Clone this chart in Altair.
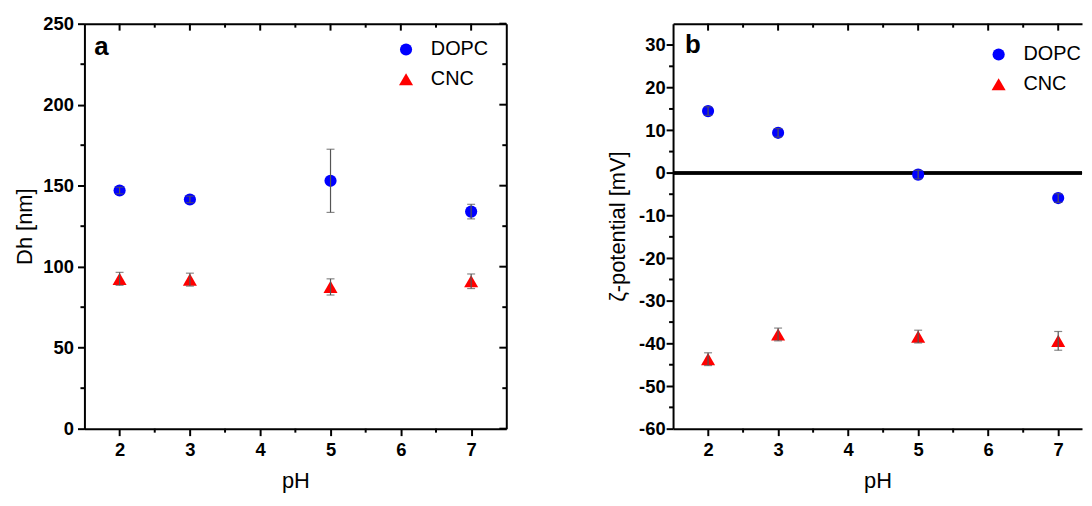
import altair as alt
import pandas as pd

# ---------------- data ----------------
ph = [2, 3, 5, 7]
series_names = ["DOPC", "CNC"]
series_colors = ["#0000ff", "#ff0000"]
series_shapes = ["circle", "triangle-up"]

dopc_dh = [147.0, 141.5, 153.0, 134.0]
dopc_dh_err = [2.0, 2.0, 19.5, 4.5]
cnc_dh = [92.5, 92.0, 87.5, 91.0]
cnc_dh_err = [4.0, 4.0, 5.0, 4.5]

dopc_zeta = [14.5, 9.4, -0.4, -5.9]
dopc_zeta_err = [1.0, 1.0, 1.0, 1.0]
cnc_zeta = [-43.7, -37.9, -38.4, -39.4]
cnc_zeta_err = [1.5, 1.5, 1.5, 2.2]

x_major = [2, 3, 4, 5, 6, 7]
x_minor = [2.5, 3.5, 4.5, 5.5, 6.5]
dh_major = [0, 50, 100, 150, 200, 250]
dh_minor = [25, 75, 125, 175, 225]
zeta_major = [-60, -50, -40, -30, -20, -10, 0, 10, 20, 30]
zeta_minor = [-55, -45, -35, -25, -15, -5, 5, 15, 25]

FONT = "Liberation Sans"


def make_df(a, a_err, b, b_err):
    rows = []
    for name, vals, errs in [("DOPC", a, a_err), ("CNC", b, b_err)]:
        for p, v, e in zip(ph, vals, errs):
            rows.append({"pH": p, "series": name, "val": v, "lo": v - e, "hi": v + e})
    return pd.DataFrame(rows)


def panel(df, x_dom, y_dom, y_major, y_minor, y_title, tag, tag_x, tag_y,
          leg_x, leg_y, width, height, right_side=True, zero_line=False,
          lab_pad=4, title_pad=6):
    xs = alt.Scale(domain=x_dom, nice=False, zero=False)
    ys = alt.Scale(domain=y_dom, nice=False, zero=False)
    base = alt.Chart(df)
    lexpr = "datum.value + ''"

    def ax(**kw):
        d = dict(title=None, grid=False, labelOverlap=False, labelFlush=False)
        d.update(kw)
        return alt.Axis(**d)

    def tick_df(vals):
        return alt.Chart(pd.DataFrame({"v": vals}))

    layers = []
    # frame (top / right domain lines)
    layers.append(base.mark_point(opacity=0).encode(
        x=alt.X("pH:Q", scale=xs, axis=ax(orient="top", ticks=False, labels=False, domain=True)),
        y=alt.Y("val:Q", scale=ys,
                axis=ax(orient="right", ticks=False, labels=False, domain=True) if right_side else None),
    ))
    tk = dict(color="black", strokeWidth=2)
    # top inward ticks (major + minor)
    for vals, ln in [(x_major, 7), (x_minor, 4)]:
        layers.append(tick_df(vals).mark_rule(**tk).encode(
            x=alt.X("v:Q", scale=xs, axis=None), y=alt.value(0), y2=alt.value(ln)))
    # bottom outward minor ticks
    layers.append(tick_df(x_minor).mark_rule(**tk).encode(
        x=alt.X("v:Q", scale=xs, axis=None), y=alt.value(height), y2=alt.value(height + 4)))
    # left outward minor ticks
    layers.append(tick_df(y_minor).mark_rule(**tk).encode(
        y=alt.Y("v:Q", scale=ys, axis=None), x=alt.value(-4), x2=alt.value(0)))
    if right_side:
        for vals, ln in [(y_major, 7), (y_minor, 4)]:
            layers.append(tick_df(vals).mark_rule(**tk).encode(
                y=alt.Y("v:Q", scale=ys, axis=None), x=alt.value(width - ln), x2=alt.value(width)))
    if zero_line:
        layers.append(base.mark_rule(color="black", strokeWidth=2.5).encode(
            y=alt.Y(datum=0, scale=ys, axis=None)
        ))
    # points + main axes
    leg = alt.Legend(orient="none", legendX=leg_x, legendY=leg_y, title=None,
                     labelFont=FONT, labelFontSize=20, labelColor="black",
                     symbolSize=110, symbolStrokeWidth=0, rowPadding=10,
                     labelOffset=15, padding=0)
    layers.append(base.mark_point(filled=True, opacity=1).encode(
        x=alt.X("pH:Q", scale=xs,
                axis=ax(orient="bottom", values=x_major, title="pH", tickSize=7, labelPadding=5,
                        titlePadding=12, format="d", domain=True)),
        y=alt.Y("val:Q", scale=ys,
                axis=ax(orient="left", values=y_major, title=y_title, tickSize=7,
                        labelPadding=lab_pad, titlePadding=title_pad, labelExpr=lexpr, domain=True)),
        color=alt.Color("series:N", scale=alt.Scale(domain=series_names, range=series_colors), legend=leg),
        shape=alt.Shape("series:N", scale=alt.Scale(domain=series_names, range=series_shapes), legend=leg),
        size=alt.Size("series:N", scale=alt.Scale(domain=series_names, range=[150, 200]), legend=None),
    ))
    # error bars
    layers.append(base.mark_rule(color="#555555", strokeWidth=1.2).encode(
        x=alt.X("pH:Q", scale=xs, axis=None),
        y=alt.Y("lo:Q", scale=ys, axis=None),
        y2="hi:Q",
    ))
    for f in ["lo", "hi"]:
        layers.append(base.mark_tick(color="#555555", orient="horizontal", size=8, thickness=1.2).encode(
            x=alt.X("pH:Q", scale=xs, axis=None),
            y=alt.Y(f + ":Q", scale=ys, axis=None),
        ))
    # panel tag
    layers.append(alt.Chart(pd.DataFrame({"tag": [tag]})).mark_text(
        font=FONT, fontSize=26, fontWeight="bold", align="left", baseline="alphabetic", color="black"
    ).encode(text="tag:N", x=alt.value(tag_x), y=alt.value(tag_y)))

    return alt.layer(*layers).resolve_axis(x="independent", y="independent").properties(
        width=width, height=height)


left = panel(make_df(dopc_dh, dopc_dh_err, cnc_dh, cnc_dh_err), [1.5, 7.5], [0, 250],
             dh_major, dh_minor, "Dh [nm]", "a", 10, 32, 314, 16, 425, 408,
             right_side=True, zero_line=False, lab_pad=4, title_pad=6)

right = panel(make_df(dopc_zeta, dopc_zeta_err, cnc_zeta, cnc_zeta_err), [1.5, 7.34], [-60, 35],
              zeta_major, zeta_minor, "ζ-potential [mV]", "b", 12, 30, 318, 21, 412, 408,
              right_side=False, zero_line=True, lab_pad=1, title_pad=9)

chart = alt.hconcat(left, right, spacing=100).resolve_legend(
    color="independent", shape="independent", size="independent"
).properties(
    padding={"left": 6, "top": 5, "right": 0, "bottom": 0}
).configure(font=FONT).configure_view(stroke=None).configure_axis(
    labelFont=FONT, labelFontSize=18.5, labelFontWeight="bold", labelColor="black",
    titleFont=FONT, titleFontSize=22, titleFontWeight="normal", titleColor="black",
    tickColor="black", tickWidth=2, domainColor="black", domainWidth=2, grid=False,
)

chart.save("out.html", embed_options={"renderer": "svg", "actions": False})
